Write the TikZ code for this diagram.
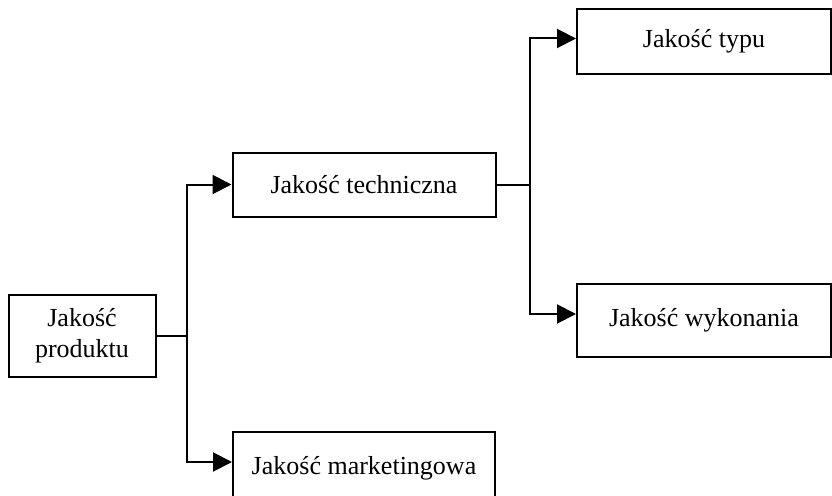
\documentclass[tikz,border=0pt]{standalone}
\usepackage{fontspec}
\setmainfont{Liberation Serif}
\usetikzlibrary{arrows.meta,positioning,calc}

\tikzset{
  box/.style={draw,rectangle,line width=2pt,align=center,inner sep=0pt,
              font=\fontsize{26}{31}\selectfont},
  link/.style={line width=2pt},
  arr/.style={line width=2pt,-{Triangle[length=19pt,width=19pt]}}
}

\begin{document}
\begin{tikzpicture}[x=1pt,y=-1pt]
      \useasboundingbox (0,0) rectangle (832,495);

      \node[box,minimum width=147pt,minimum height=82pt] (prod) at (82,335.5) {Jakość\\produktu};

      \node[box,minimum width=263pt,minimum height=64pt] (tech) at (364,184.5) {Jakość techniczna};
      \node[box,minimum width=262pt,minimum height=72pt] (mark) at (364,468) {Jakość marketingowa};

      \node[box,minimum width=254pt,minimum height=64pt] (typ) at (704,41.5) {Jakość typu};
      \node[box,minimum width=254pt,minimum height=73pt] (wyk) at (704,320) {Jakość wykonania};

      % first split
      \draw[link] (prod.east) -- ++(30,0) coordinate (j0);
      \draw[arr] (j0) |- (tech.west);
      \draw[arr] (j0) |- ([yshift=6pt]mark.west);

      % second split
      \draw[link] (tech.east) -- ++(33,0) coordinate (j1);
      \draw[arr] (j1) |- ([yshift=3pt]typ.west);
      \draw[arr] (j1) |- ([yshift=6pt]wyk.west);

    \end{tikzpicture}
\end{document}
